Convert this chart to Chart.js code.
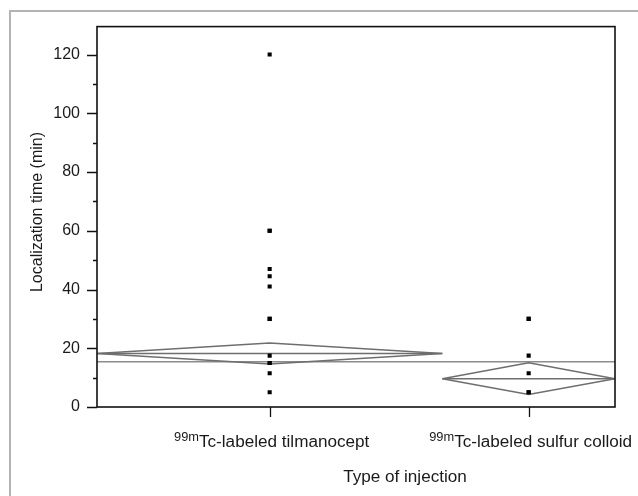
<!DOCTYPE html>
<html>
<head>
<meta charset="utf-8">
<script src="https://cdn.jsdelivr.net/npm/chart.js@4/dist/chart.umd.min.js"></script>
<style>
  html, body { margin: 0; padding: 0; background: #fff; }
  #wrap { position: relative; width: 638px; height: 496px; overflow: hidden; }
  #frame { position: absolute; left: 9px; top: 10px; width: 700px; height: 600px;
           border-left: 2px solid #b4b4b4; border-top: 2px solid #b4b4b4; }
  canvas { position: absolute; left: 0; top: 0; }
</style>
</head>
<body>
<div id="wrap">
  <div id="frame"></div>
  <canvas id="chart" width="638" height="496"></canvas>
</div>
<script>
// groups: x position is the group centre, width is proportional to group size
const groupSup = ['99m', '99m'];
const groupNames = ['Tc-labeled tilmanocept', 'Tc-labeled sulfur colloid'];
const groupRange = [[0, 2], [2, 3]];

// individual localization times (min)
const tilmanoceptTimes = [120, 60, 60, 47, 44.5, 41, 30, 30, 17.5, 15, 15, 11.5, 5];
const sulfurColloidTimes = [30, 30, 17.5, 11.5, 5, 5];

// means diamonds: mean, lower 95% CI, upper 95% CI
const groupMean = [18.2, 9.6];
const groupLower = [14.6, 4.3];
const groupUpper = [21.8, 15.1];
const grandMean = 15.4;

const yMajorTicks = [0, 20, 40, 60, 80, 100, 120];
const yMinorTicks = [10, 30, 50, 70, 90, 110];
const yTitle = 'Localization time (min)';
const xTitle = 'Type of injection';

const FONT = '"Liberation Sans", Arial, sans-serif';
const LINE = '#6e6e6e';
const STRETCH = 1.07; // the source text is a little wide

function centre(i) {
    return (groupRange[i][0] + groupRange[i][1]) / 2;
}

function pointsFor(values, i) {
    return values.map(v => ({ x: centre(i), y: v }));
}

function diamond(i) {
    const [a, b] = groupRange[i];
    const c = centre(i);
    return [
        { x: a, y: groupMean[i] },
        { x: c, y: groupUpper[i] },
        { x: b, y: groupMean[i] },
        { x: c, y: groupLower[i] },
        { x: a, y: groupMean[i] }
    ];
}

function meanLine(i) {
    return [{ x: groupRange[i][0], y: groupMean[i] }, { x: groupRange[i][1], y: groupMean[i] }];
}

const lineStyle = { showLine: true, borderColor: LINE, borderWidth: 1.5, pointRadius: 0, fill: false };

// draws text stretched horizontally around a given left x
function wideText(ctx, text, left, base) {
    ctx.save();
    ctx.translate(left, base);
    ctx.scale(STRETCH, 1);
    ctx.fillText(text, 0, 0);
    ctx.restore();
}

// axes, ticks, frame and labels
const decorations = {
    id: 'decorations',
    afterDraw(chart) {
        const ctx = chart.ctx;
        const area = chart.chartArea;
        const x = chart.scales.x;
        const y = chart.scales.y;
        ctx.save();

        // plot frame
        ctx.strokeStyle = '#111';
        ctx.lineWidth = 1.6;
        ctx.strokeRect(area.left, area.top, area.right - area.left, area.bottom - area.top);

        // y ticks
        ctx.lineWidth = 1.3;
        ctx.beginPath();
        yMajorTicks.forEach(v => {
            const py = Math.round(y.getPixelForValue(v)) + 0.5;
            ctx.moveTo(area.left - 10, py);
            ctx.lineTo(area.left, py);
        });
        yMinorTicks.forEach(v => {
            const py = Math.round(y.getPixelForValue(v)) + 0.5;
            ctx.moveTo(area.left - 4, py);
            ctx.lineTo(area.left, py);
        });
        // x ticks
        groupNames.forEach((n, i) => {
            const px = Math.round(x.getPixelForValue(centre(i))) + 0.5;
            ctx.moveTo(px, area.bottom);
            ctx.lineTo(px, area.bottom + 10);
        });
        ctx.stroke();

        // x category labels with superscript
        ctx.fillStyle = '#1a1a1a';
        ctx.textBaseline = 'alphabetic';
        ctx.textAlign = 'left';
        groupNames.forEach((n, i) => {
            ctx.font = '12px ' + FONT;
            const wSup = ctx.measureText(groupSup[i]).width * STRETCH;
            ctx.font = '16px ' + FONT;
            const wMain = ctx.measureText(n).width * STRETCH;
            const px = x.getPixelForValue(centre(i)) + 2;
            const start = px - (wSup + wMain) / 2;
            ctx.font = '12px ' + FONT;
            wideText(ctx, groupSup[i], start, 441);
            ctx.font = '16px ' + FONT;
            wideText(ctx, n, start + wSup, 447);
        });

        // x title
        ctx.font = '16px ' + FONT;
        const wt = ctx.measureText(xTitle).width * STRETCH;
        wideText(ctx, xTitle, 405 - wt / 2, 482);

        // y title
        ctx.textAlign = 'center';
        ctx.translate(42, 212);
        ctx.rotate(-Math.PI / 2);
        ctx.font = '16px ' + FONT;
        ctx.fillText(yTitle, 0, 0);
        ctx.restore();
    }
};

new Chart(document.getElementById('chart'), {
    type: 'scatter',
    data: {
        datasets: [
            { data: pointsFor(tilmanoceptTimes, 0), pointStyle: 'rect', pointRadius: 2.9,
              backgroundColor: '#000', borderColor: '#000', borderWidth: 0 },
            { data: pointsFor(sulfurColloidTimes, 1), pointStyle: 'rect', pointRadius: 2.9,
              backgroundColor: '#000', borderColor: '#000', borderWidth: 0 },
            { data: diamond(0), ...lineStyle },
            { data: diamond(1), ...lineStyle },
            { data: meanLine(0), ...lineStyle },
            { data: meanLine(1), ...lineStyle },
            { data: [{ x: 0, y: grandMean }, { x: 3, y: grandMean }], ...lineStyle, borderColor: '#8c8c8c' }
        ]
    },
    options: {
        responsive: false,
        animation: false,
        layout: { padding: { top: 25, right: 23, bottom: 89, left: 0 } },
        plugins: { legend: { display: false }, tooltip: { enabled: false } },
        scales: {
            x: { type: 'linear', display: false, min: 0, max: 3 },
            y: {
                type: 'linear', min: 0, max: 129.5,
                afterBuildTicks: s => { s.ticks = yMajorTicks.map(v => ({ value: v })); },
                afterFit: s => { s.width = 97; },
                grid: { display: false, drawTicks: false },
                border: { display: false },
                ticks: { font: { family: FONT, size: 16 }, color: '#1a1a1a', padding: 17 }
            }
        }
    },
    plugins: [decorations]
});
</script>
</body>
</html>
